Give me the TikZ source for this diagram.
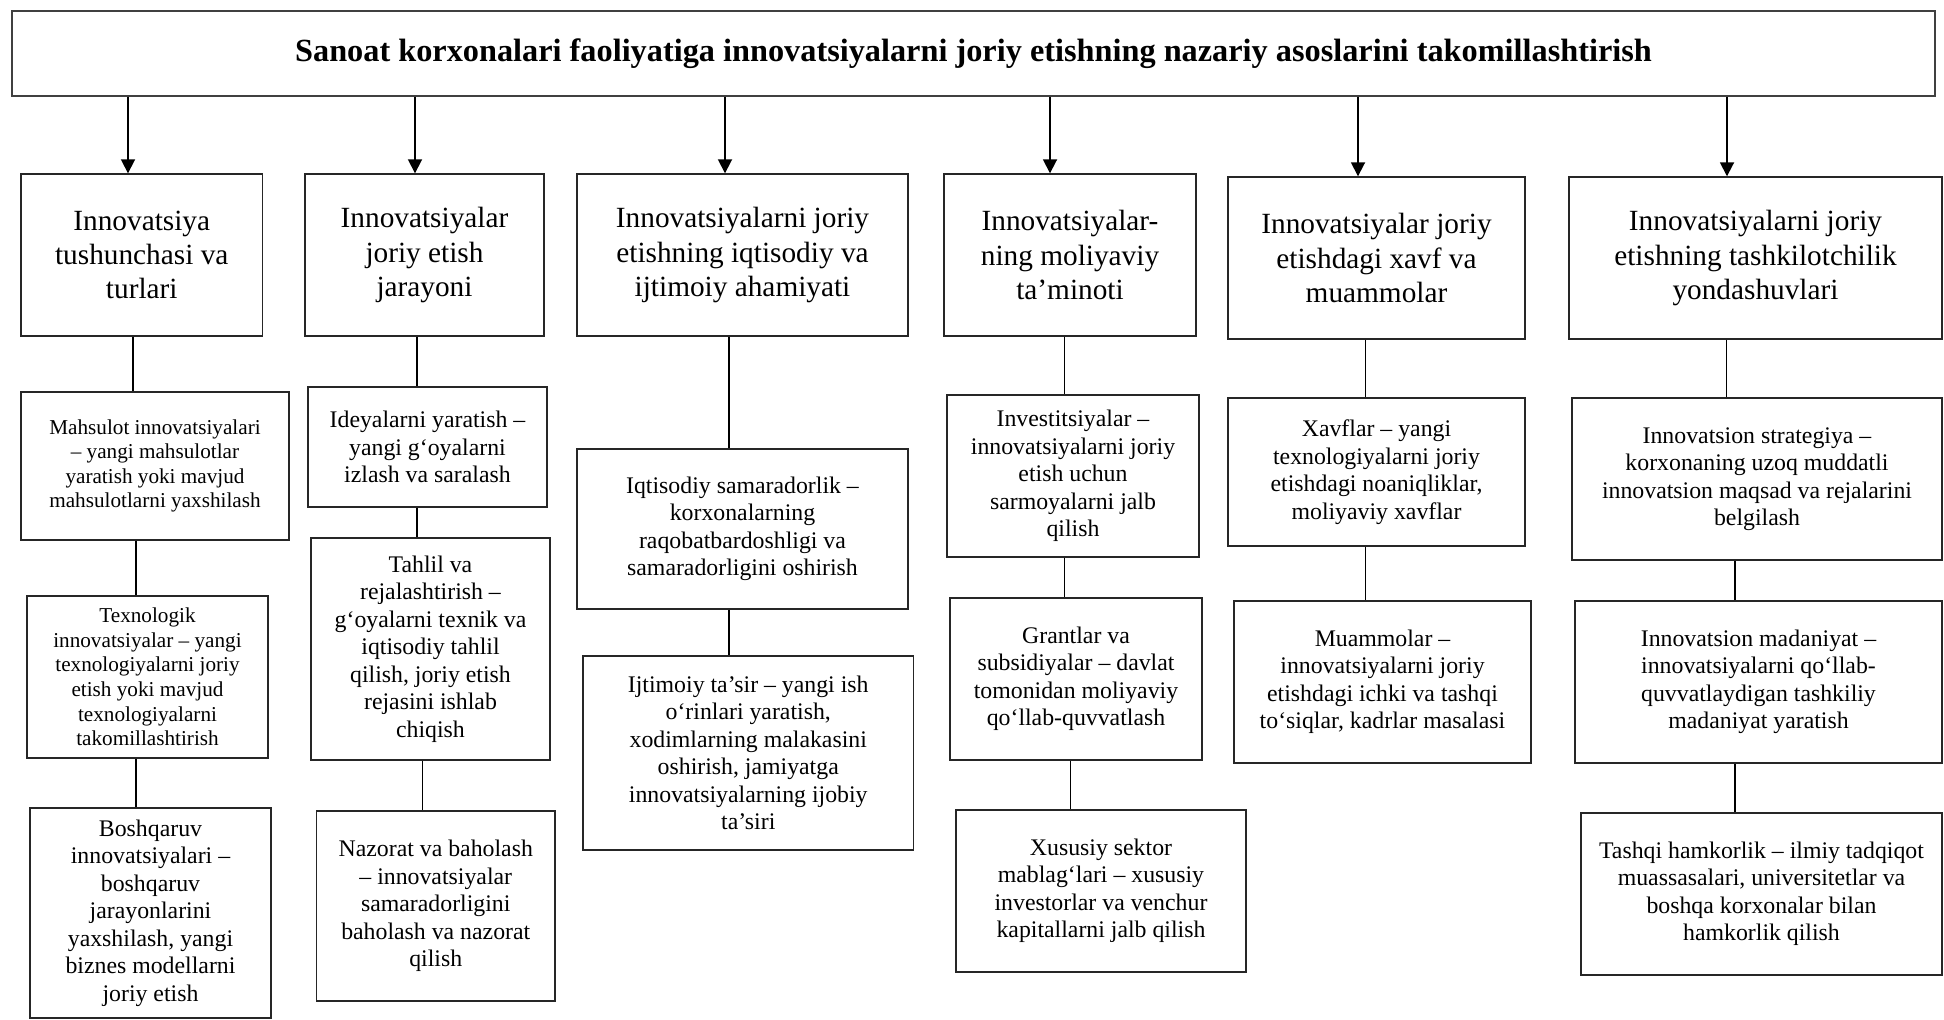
\documentclass[tikz,border=0pt]{standalone}
\usepackage{fontspec}
\setmainfont{Liberation Serif}
\usetikzlibrary{arrows.meta}
\newcommand{\ttlfont}{\fontsize{32.3}{38}\selectfont\bfseries}
\newcommand{\hdfont}{\fontsize{29.3}{34.2}\selectfont}
\newcommand{\bdfont}{\fontsize{23.8}{27.5}\selectfont}
\newcommand{\smfont}{\fontsize{21.2}{24.6}\selectfont}
\tikzset{
  box/.style={draw=black!85, line width=1.4pt, inner sep=0pt, align=center, font=\bdfont},
  headbox/.style={box, font=\hdfont, minimum height=162pt},
  smallbox/.style={box, font=\smfont},
  titlebox/.style={box, draw=black!75, line width=1.6pt, font=\ttlfont},
  arr/.style={line width=1.8pt, -{Triangle[length=14pt,width=14pt]}},
  link/.style={line width=1.5pt}
}
\begin{document}
\begin{tikzpicture}[x=1pt,y=-1pt]
\useasboundingbox (0,0) rectangle (1944,1020);
% title
\node[titlebox, minimum width=1923pt, minimum height=85pt] (T) at (973.5,53.5)
  {Sanoat korxonalari faoliyatiga innovatsiyalarni joriy etishning nazariy asoslarini takomillashtirish};
% heads
\node[headbox, minimum width=241.5pt] (A1) at (141.75,255) {Innovatsiya\\tushunchasi va\\turlari};
\node[headbox, minimum width=239pt] (A2) at (424.5,255) {Innovatsiyalar\\joriy etish\\jarayoni};
\node[headbox, minimum width=331pt] (A3) at (742.5,255) {Innovatsiyalarni joriy\\etishning iqtisodiy va\\ijtimoiy ahamiyati};
\node[headbox, minimum width=252pt] (A4) at (1070,255) {Innovatsiyalar-\\ning moliyaviy\\ta’minoti};
\node[headbox, minimum width=297pt] (A5) at (1376.5,258) {Innovatsiyalar joriy\\etishdagi xavf va\\muammolar};
\node[headbox, minimum width=373pt] (A6) at (1755.5,258) {Innovatsiyalarni joriy\\etishning tashkilotchilik\\yondashuvlari};
% column 1
\node[smallbox, minimum width=268pt, minimum height=148pt] (B1) at (155,466)
  {Mahsulot innovatsiyalari\\– yangi mahsulotlar\\yaratish yoki mavjud\\mahsulotlarni yaxshilash};
\node[smallbox, minimum width=241pt, minimum height=162pt] (C1) at (147.5,677)
  {Texnologik\\innovatsiyalar – yangi\\texnologiyalarni joriy\\etish yoki mavjud\\texnologiyalarni\\takomillashtirish};
\node[box, minimum width=241pt, minimum height=210pt] (D1) at (150.5,913)
  {Boshqaruv\\innovatsiyalari –\\boshqaruv\\jarayonlarini\\yaxshilash, yangi\\biznes modellarni\\joriy etish};
% column 2
\node[box, minimum width=239pt, minimum height=120pt] (B2) at (427.5,447)
  {Ideyalarni yaratish –\\yangi g‘oyalarni\\izlash va saralash};
\node[box, minimum width=239pt, minimum height=222pt] (C2) at (430.5,649)
  {Tahlil va\\rejalashtirish –\\g‘oyalarni texnik va\\iqtisodiy tahlil\\qilish, joriy etish\\rejasini ishlab\\chiqish};
\node[box, minimum width=238.5pt, minimum height=190pt] (D2) at (435.75,906)
  {Nazorat va baholash\\– innovatsiyalar\\samaradorligini\\baholash va nazorat\\qilish};
% column 3
\node[box, minimum width=331pt, minimum height=160pt] (B3) at (742.5,529)
  {Iqtisodiy samaradorlik –\\korxonalarning\\raqobatbardoshligi va\\samaradorligini oshirish};
\node[box, minimum width=330.5pt, minimum height=194pt] (C3) at (748.25,753)
  {Ijtimoiy ta’sir – yangi ish\\o‘rinlari yaratish,\\xodimlarning malakasini\\oshirish, jamiyatga\\innovatsiyalarning ijobiy\\ta’siri};
% column 4
\node[box, minimum width=252pt, minimum height=162pt] (B4) at (1073,476)
  {Investitsiyalar –\\innovatsiyalarni joriy\\etish uchun\\sarmoyalarni jalb\\qilish};
\node[box, minimum width=252pt, minimum height=162pt] (C4) at (1076,679)
  {Grantlar va\\subsidiyalar – davlat\\tomonidan moliyaviy\\qo‘llab-quvvatlash};
\node[box, minimum width=290pt, minimum height=162pt] (D4) at (1101,891)
  {Xususiy sektor\\mablag‘lari – xususiy\\investorlar va venchur\\kapitallarni jalb qilish};
% column 5
\node[box, minimum width=297pt, minimum height=148pt] (B5) at (1376.5,472)
  {Xavflar – yangi\\texnologiyalarni joriy\\etishdagi noaniqliklar,\\moliyaviy xavflar};
\node[box, minimum width=297pt, minimum height=162pt] (C5) at (1382.5,682)
  {Muammolar –\\innovatsiyalarni joriy\\etishdagi ichki va tashqi\\to‘siqlar, kadrlar masalasi};
% column 6
\node[box, minimum width=370pt, minimum height=162pt] (B6) at (1757,479)
  {Innovatsion strategiya –\\korxonaning uzoq muddatli\\innovatsion maqsad va rejalarini\\belgilash};
\node[box, minimum width=367pt, minimum height=162pt] (C6) at (1758.5,682)
  {Innovatsion madaniyat –\\innovatsiyalarni qo‘llab-\\quvvatlaydigan tashkiliy\\madaniyat yaratish};
\node[box, minimum width=361pt, minimum height=162pt] (D6) at (1761.5,894)
  {Tashqi hamkorlik – ilmiy tadqiqot\\muassasalari, universitetlar va\\boshqa korxonalar bilan\\hamkorlik qilish};
% arrow positions
\coordinate (t1) at (128,0);
\coordinate (t2) at (415,0);
\coordinate (t3) at (725,0);
\coordinate (t4) at (1050,0);
\coordinate (t5) at (1358,0);
\coordinate (t6) at (1727,0);
\draw[arr] (T.south -| t1) -- (A1.north -| t1);
\draw[arr] (T.south -| t2) -- (A2.north -| t2);
\draw[arr] (T.south -| t3) -- (A3.north -| t3);
\draw[arr] (T.south -| t4) -- (A4.north -| t4);
\draw[arr] (T.south -| t5) -- (A5.north -| t5);
\draw[arr] (T.south -| t6) -- (A6.north -| t6);
% link positions
\coordinate (k1a) at (133,0);
\coordinate (k1b) at (136,0);
\coordinate (k2a) at (417,0);
\coordinate (k2b) at (422.5,0);
\coordinate (k3) at (729,0);
\coordinate (k4a) at (1064.6,0);
\coordinate (k4b) at (1070.5,0);
\coordinate (k5) at (1365.6,0);
\coordinate (k6a) at (1726.6,0);
\coordinate (k6b) at (1735,0);
\draw[link] (A1.south -| k1a) -- (B1.north -| k1a);
\draw[link] (B1.south -| k1b) -- (C1.north -| k1b);
\draw[link] (C1.south -| k1b) -- (D1.north -| k1b);
\draw[link] (A2.south -| k2a) -- (B2.north -| k2a);
\draw[link] (B2.south -| k2a) -- (C2.north -| k2a);
\draw[link] (C2.south -| k2b) -- (D2.north -| k2b);
\draw[link] (A3.south -| k3) -- (B3.north -| k3);
\draw[link] (B3.south -| k3) -- (C3.north -| k3);
\draw[link] (A4.south -| k4a) -- (B4.north -| k4a);
\draw[link] (B4.south -| k4a) -- (C4.north -| k4a);
\draw[link] (C4.south -| k4b) -- (D4.north -| k4b);
\draw[link] (A5.south -| k5) -- (B5.north -| k5);
\draw[link] (B5.south -| k5) -- (C5.north -| k5);
\draw[link] (A6.south -| k6a) -- (B6.north -| k6a);
\draw[link] (B6.south -| k6b) -- (C6.north -| k6b);
\draw[link] (C6.south -| k6b) -- (D6.north -| k6b);
\end{tikzpicture}
\end{document}
